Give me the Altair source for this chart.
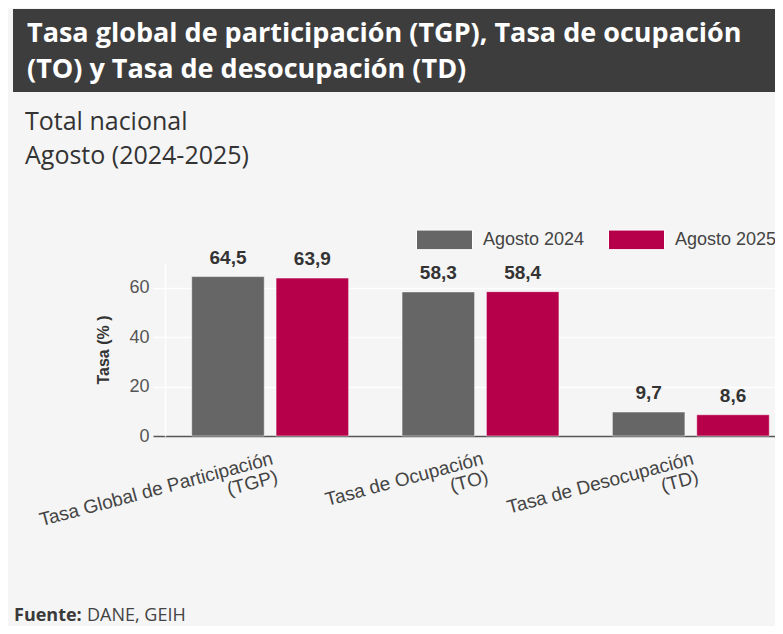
import altair as alt
import pandas as pd

# ---- data ----
categories = ["Tasa Global de Participación|(TGP)", "Tasa de Ocupación|(TO)", "Tasa de Desocupación|(TD)"]
series = ["Agosto 2024", "Agosto 2025"]
values_2024 = [64.5, 58.3, 9.7]
values_2025 = [63.9, 58.4, 8.6]
colors = ["#666666", "#b7004a"]

header_lines = ["Tasa global de participación (TGP), Tasa de ocupación", "(TO) y Tasa de desocupación (TD)"]
subtitle_lines = ["Total nacional", "Agosto (2024-2025)"]
source_label = "Fuente:"
source_text = "DANE, GEIH"

rows = []
for c, v in zip(categories, values_2024):
    rows.append({"cat": c, "serie": series[0], "val": v})
for c, v in zip(categories, values_2025):
    rows.append({"cat": c, "serie": series[1], "val": v})
df = pd.DataFrame(rows)

W, H = 610, 173
FULL = 631
BG = "#f5f5f5"

base = alt.Chart(df).transform_calculate(
    label="replace(format(datum.val, '.1f'), '.', ',')"
).encode(
    x=alt.X(
        "cat:N",
        sort=categories,
        scale=alt.Scale(range=[0, FULL], paddingInner=0.254, paddingOuter=0.127),
        axis=alt.Axis(
            title=None,
            labelAngle=-15,
            labelAlign="right",
            labelBaseline="top",
            labelExpr="split(datum.label, '|')",
            labelFont="Liberation Sans",
            labelFontSize=19,
            labelColor="#444444",
            labelLineHeight=19,
            labelPadding=13,
            labelLimit=400,
            labelOverlap=False,
            ticks=False,
            domainColor="#555555",
            domainWidth=1.5,
            grid=False,
        ),
    ),
    xOffset=alt.XOffset("serie:N", sort=series, scale=alt.Scale(paddingInner=0.14, paddingOuter=0)),
    y=alt.Y(
        "val:Q",
        scale=alt.Scale(domain=[0, 70], nice=False),
        axis=alt.Axis(
            values=[0, 20, 40, 60],
            title="Tasa (% )",
            titleFont="Liberation Sans",
            titleFontSize=16,
            titleFontWeight="bold",
            titleColor="#333333",
            titlePadding=17,
            labelFont="Liberation Sans",
            labelFontSize=18,
            labelColor="#555555",
            labelPadding=4,
            tickSize=12,
            tickWidth=1.5,
            tickColor={"condition": {"test": "datum.value === 0", "value": "#555555"}, "value": "#ffffff"},
            domainColor="#ffffff",
            domainWidth=1.5,
            gridColor="#ffffff",
            gridWidth=1.5,
        ),
    ),
)

bars = base.mark_bar(stroke="#ffffff", strokeWidth=1, strokeOpacity=0.5).encode(
    color=alt.Color(
        "serie:N",
        sort=series,
        scale=alt.Scale(domain=series, range=colors),
        legend=alt.Legend(
            title=None,
            orient="none",
            legendX=251,
            legendY=-52,
            direction="horizontal",
            symbolType="M-1,-0.35H1V0.35H-1Z",
            symbolSize=3136,
            symbolStrokeWidth=1,
            labelFont="Liberation Sans",
            labelFontSize=18,
            labelColor="#444444",
            labelOffset=10,
            columnPadding=21,
            labelLimit=300,
        ),
    )
)

labels = base.mark_text(
    dy=-13, baseline="alphabetic", fontWeight="bold", fontSize=19,
    font="Liberation Sans", color="#333333"
).encode(text="label:N")

one = pd.DataFrame({"k": [0]})

band = alt.Chart(one).mark_rect(color="#3d3d3d").encode(
    x=alt.value(-152), x2=alt.value(620), y=alt.value(-254), y2=alt.value(-171)
)

def txt(s, x, y, size, weight="normal", color="#333333", font="Open Sans"):
    return alt.Chart(pd.DataFrame({"t": [s]})).mark_text(
        align="left", baseline="alphabetic", fontSize=size, fontWeight=weight,
        color=color, font=font
    ).encode(x=alt.value(x), y=alt.value(y), text="t:N")

h1 = txt(header_lines[0], -138, -221, 27, "bold", "#ffffff")
h2 = txt(header_lines[1], -138, -185, 27, "bold", "#ffffff")
s1 = txt(subtitle_lines[0], -140, -133, 25, "normal", "#333333")
s2 = txt(subtitle_lines[1], -140, -99, 25, "normal", "#333333")
f1 = txt(source_label, -151, 358, 18, "bold", "#3a3a3a")
f2 = txt(source_text, -78, 358, 18, "normal", "#444444")

chart = alt.layer(band, h1, h2, s1, s2, f1, f2, bars, labels).properties(
    width=W,
    height=H,
    background=BG,
    padding={"left": 157, "top": 255, "right": 0, "bottom": 190},
    autosize=alt.AutoSizeParams(type="none"),
).configure_view(stroke=None, fill=BG)

chart.save("out.html", embed_options={"renderer": "svg", "actions": False})
